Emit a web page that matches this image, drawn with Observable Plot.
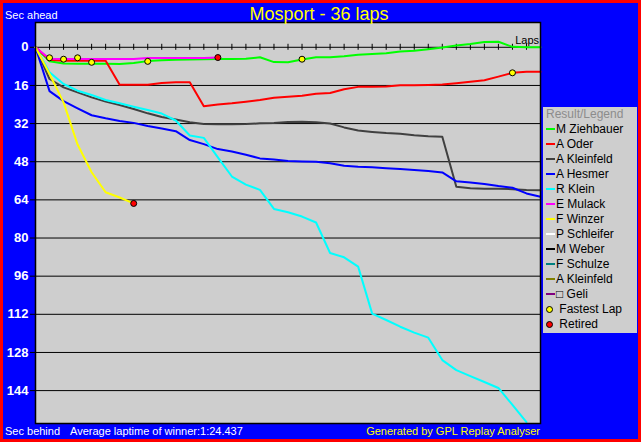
<!DOCTYPE html>
<html>
<head>
<meta charset="utf-8">
<script src="https://cdn.jsdelivr.net/npm/d3@7"></script>
<script src="https://cdn.jsdelivr.net/npm/@observablehq/plot@0.6"></script>
<style>
html, body { margin: 0; padding: 0; background: #ff0000; }
#page { position: relative; width: 641px; height: 442px; background: #ff0000; overflow: hidden;
  font-family: "Liberation Sans", Arial, sans-serif; }
#inner { position: absolute; left: 3px; top: 3px; width: 635px; height: 436px; background: #0000ff; }
#chart { position: absolute; left: 0; top: 0; }
.t { position: absolute; white-space: nowrap; line-height: 1; }
#title { left: 169px; width: 300px; text-align: center; top: 4.8px; font-size: 18px; color: #ffff00; }
#secahead { left: 5px; top: 9.7px; font-size: 11px; color: #ffffff; }
#laps { right: 102px; top: 34.7px; font-size: 11px; color: #000000; text-align: right; }
#secbehind { left: 5px; top: 425.7px; font-size: 11px; color: #ffffff; }
#avg { left: 70px; top: 425.7px; font-size: 11px; color: #ffffff; }
#gen { right: 101px; top: 425.7px; font-size: 11px; color: #ffff00; text-align: right; }
#legend { position: absolute; left: 543px; top: 107px; width: 94px; height: 226px; background: #cecece; }
#legend .row { height: 15px; line-height: 15px; font-size: 12px; color: #000; white-space: nowrap; padding-left: 3px; }
#legend .head { color: #8c8c8c; }
#legend .sw { display: inline-block; width: 9px; height: 2px; vertical-align: middle; margin-right: 1px; position: relative; top: -1px; }
#legend .dotwrap { display: inline-block; width: 9px; height: 15px; vertical-align: top; margin-right: 1px; position: relative; }
#legend .dot { position: absolute; left: 0px; top: 4px; width: 5px; height: 5px; border: 1px solid #000; border-radius: 50%; }
#chart g[aria-label="y-axis tick"] { stroke: #000000; }
#chart g[aria-label="y-axis tick label"] { fill: #ffffff; font-weight: bold; font-size: 13px; }
</style>
</head>
<body>
<div id="page">
  <div id="inner"></div>
  <div id="chart"></div>
  <div class="t" id="title">Mosport - 36 laps</div>
  <div class="t" id="secahead">Sec ahead</div>
  <div class="t" id="laps">Laps</div>
  <div class="t" id="secbehind">Sec behind</div>
  <div class="t" id="avg">Average laptime of winner:1:24.437</div>
  <div class="t" id="gen">Generated by GPL Replay Analyser</div>
  <div id="legend"></div>
</div>
<script>
// ---- data (seconds behind the winner's average-lap pace, per lap) ----
const drivers = ["M Ziehbauer", "A Oder", "A Kleinfeld", "A Hesmer", "R Klein", "E Mulack", "F Winzer",
                 "P Schleifer", "M Weber", "F Schulze", "A Kleinfeld", "\u25A1 Geli"];
const colors = ["#00ff00", "#ff0000", "#404040", "#0000ff", "#00ffff", "#ff00ff", "#ffff00",
                "#ffffff", "#000000", "#008080", "#808000", "#800080"];

const ziehbauer = [0, 5.9, 6.8, 6.9, 6.9, 6.9, 7.0, 6.6, 5.8, 5.4, 5.2, 5.1, 5.0, 4.9, 4.9, 4.8, 4.2, 6.2, 6.3, 5.1,
                   4.2, 4.2, 3.8, 3.1, 2.8, 2.5, 1.8, 1.4, 0.8, 0.1, -0.8, -1.4, -2.2, -2.3, -0.2, 0, 0];
const oder = [0, 5.2, 5.6, 5.6, 5.6, 5.6, 15.7, 15.7, 15.7, 15.0, 14.7, 14.7, 24.7, 24.0, 23.5, 22.8, 22.1, 21.2, 20.7, 20.3,
              19.5, 19.2, 17.6, 16.6, 16.5, 16.4, 15.9, 15.9, 15.8, 15.6, 15.1, 14.5, 13.8, 12.3, 10.7, 10.3, 10.3];
const kleinfeld = [0, 13.3, 16.8, 18.9, 21.0, 22.8, 24.2, 25.9, 27.7, 29.2, 30.3, 31.4, 32.2, 32.3, 32.3, 32.2, 31.9, 31.8, 31.3, 31.2,
                   31.4, 32.0, 33.6, 34.9, 35.5, 36.0, 36.3, 36.9, 37.3, 37.5, 58.5, 59.1, 59.3, 59.3, 59.5, 59.9, 60.0];
const hesmer = [0, 18.4, 22.6, 25.6, 28.5, 29.8, 30.9, 31.7, 33.0, 34.1, 35.2, 38.9, 40.6, 42.7, 43.7, 45.1, 46.6, 47.1, 47.7, 47.9,
                48.0, 48.6, 49.7, 50.1, 50.3, 50.7, 51.1, 51.5, 51.9, 52.5, 56.2, 56.7, 57.3, 58.2, 58.9, 61.3, 62.7];
const klein = [0, 10.5, 15.4, 18.2, 20.0, 22.1, 23.5, 24.9, 26.3, 27.8, 30.7, 37.0, 38.0, 46.2, 54.2, 57.6, 59.8, 67.8, 69.2, 71.0,
               73.5, 86.3, 88.1, 92.0, 111.7, 114.4, 117.2, 119.7, 121.8, 131.2, 135.4, 137.9, 140.4, 142.9, 150.0, 157.2];
const mulack = [0, 4.8, 4.9, 4.9, 4.9, 4.9, 4.9, 4.9, 4.5, 4.5, 4.5, 4.5, 4.5, 4.3];
const winzer = [0, 11.2, 23.1, 40.8, 52.4, 60.8, 63.0, 65.5];

const fastestLaps = [1, 2, 3, 4, 8, 19, 34];
const fastestSecs = [4.4, 5.0, 4.4, 6.3, 5.9, 5.0, 10.7];
const retiredLaps = [13, 7];
const retiredSecs = [4.3, 65.5];

const yTicks = [0, 16, 32, 48, 64, 80, 96, 112, 128, 144];
const lapTicks = [0,1,2,3,4,5,6,7,8,9,10,11,12,13,14,15,16,17,18,19,20,21,22,23,24,25,26,27,28,29,30,31,32,33,34,35,36];

const series = [ziehbauer, oder, kleinfeld, hesmer, klein, mulack, winzer];

const fastest = fastestLaps.map((lap, i) => ({lap, sec: fastestSecs[i]}));
const retired = retiredLaps.map((lap, i) => ({lap, sec: retiredSecs[i]}));

const lineMarks = series.map((vals, k) =>
  Plot.line(vals, {x: (d, i) => i, y: d => d, stroke: colors[k], strokeWidth: 2}));

const chart = Plot.plot({
  width: 641,
  height: 442,
  marginLeft: 35,
  marginRight: 101,
  marginTop: 22,
  marginBottom: 19,
  style: {background: "transparent", color: "white", fontFamily: "Liberation Sans, Arial, sans-serif", overflow: "visible"},
  x: {domain: [0, 36], axis: null, label: null},
  y: {domain: [157.8, -10.4], axis: null, label: null},
  marks: [
    Plot.frame({fill: "#cecece", stroke: "none"}),
    Plot.ruleY(yTicks, {stroke: "black"}),
    Plot.ruleX(lapTicks, {x: d => d, y1: 0, y2: 0, insetTop: -3, insetBottom: -3, stroke: "black"}),
    Plot.axisY(yTicks, {anchor: "left", label: null, tickSize: 5, tickPadding: 2, fontSize: 13, fontWeight: "bold", tickFormat: d => String(d)}),
    ...lineMarks,
    Plot.dot(fastest, {x: "lap", y: "sec", r: 3, fill: "#ffff00", stroke: "black", strokeWidth: 1}),
    Plot.dot(retired, {x: "lap", y: "sec", r: 3, fill: "#ff0000", stroke: "black", strokeWidth: 1}),
    Plot.frame({fill: "none", stroke: "black", strokeWidth: 1.5})
  ]
});
document.getElementById("chart").appendChild(chart);

// legend
const legend = document.getElementById("legend");
const head = document.createElement("div");
head.className = "row head";
head.textContent = "Result/Legend";
legend.appendChild(head);
drivers.forEach((name, k) => {
  const row = document.createElement("div");
  row.className = "row";
  const sw = document.createElement("span");
  sw.className = "sw";
  sw.style.background = colors[k];
  row.appendChild(sw);
  row.appendChild(document.createTextNode(name));
  legend.appendChild(row);
});
[["Fastest Lap", "#ffff00"], ["Retired", "#ff0000"]].forEach(([name, c]) => {
  const row = document.createElement("div");
  row.className = "row";
  const w = document.createElement("span");
  w.className = "dotwrap";
  const dot = document.createElement("span");
  dot.className = "dot";
  dot.style.background = c;
  w.appendChild(dot);
  row.appendChild(w);
  row.appendChild(document.createTextNode(" " + name));
  legend.appendChild(row);
});
</script>
</body>
</html>
